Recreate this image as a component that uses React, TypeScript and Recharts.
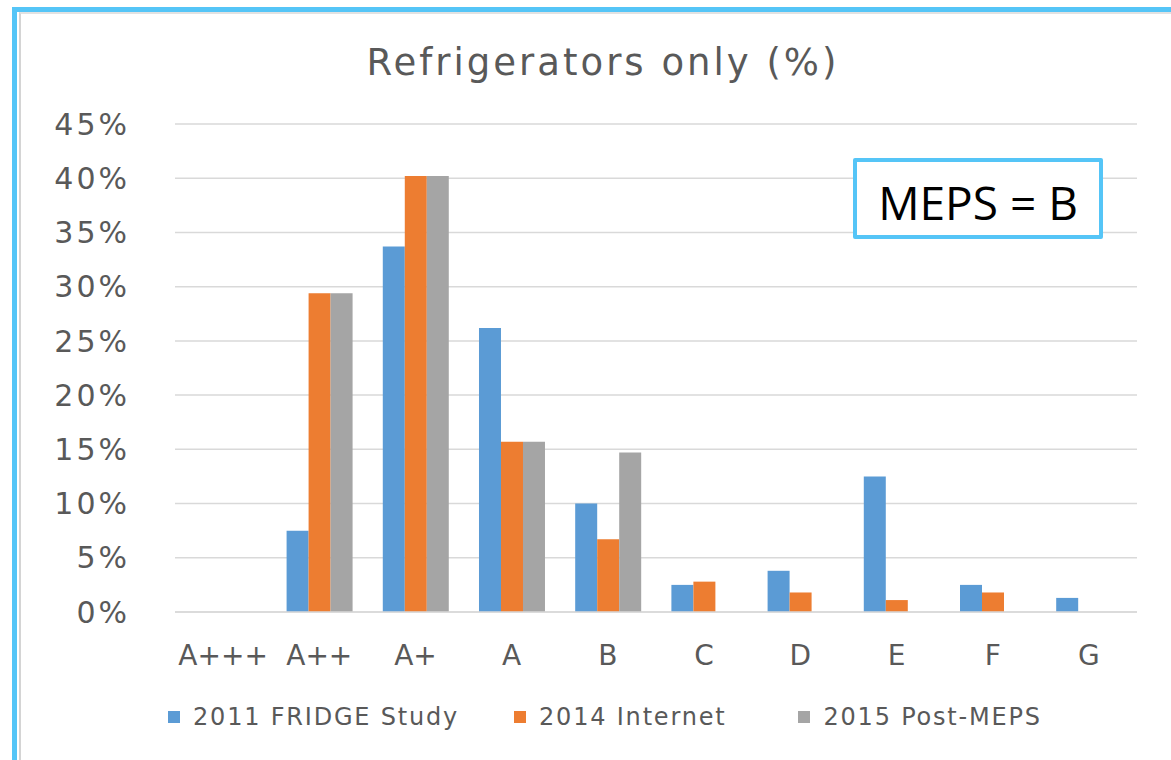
import React from "react";
import {
  BarChart,
  Bar,
  XAxis,
  YAxis,
  CartesianGrid,
  Legend,
} from "recharts";

const categories = ["A+++", "A++", "A+", "A", "B", "C", "D", "E", "F", "G"];
const fridgeStudy2011 = [0, 7.5, 33.7, 26.2, 10.0, 2.5, 3.8, 12.5, 2.5, 1.3];
const internet2014 = [0, 29.4, 40.2, 15.7, 6.7, 2.8, 1.8, 1.1, 1.8, 0];
const postMeps2015 = [0, 29.4, 40.2, 15.7, 14.7, 0, 0, 0, 0, 0];
const yTicks = [0, 5, 10, 15, 20, 25, 30, 35, 40, 45];

const data = categories.map((cat, i) => ({
  cat,
  fridge: fridgeStudy2011[i],
  internet: internet2014[i],
  post: postMeps2015[i],
}));

const textColor = "#595959";
const font = "DejaVu Sans";

function renderLegend(props: any) {
  const { payload } = props;
  return (
    <div
      style={{
        display: "flex",
        alignItems: "center",
        height: 30,
        paddingLeft: 168,
        fontFamily: font,
        fontSize: 24,
        letterSpacing: 1.8,
        color: textColor,
      }}
    >
      {payload.map((p: any, i: number) => (
        <div
          key={p.value}
          style={{ display: "flex", alignItems: "center", marginRight: i === 0 ? 55 : 72 }}
        >
          <span
            style={{
              display: "inline-block",
              width: 12,
              height: 12,
              background: p.color,
              marginRight: 13,
            }}
          />
          <span>{p.value}</span>
        </div>
      ))}
    </div>
  );
}

export default function App() {
  return (
    <div
      style={{
        position: "absolute",
        left: 0,
        top: 0,
        width: 1171,
        height: 760,
        background: "#fff",
        overflow: "hidden",
      }}
    >
      <div
        style={{
          position: "absolute",
          left: 12,
          top: 7,
          width: 1300,
          height: 900,
          borderLeft: "5px solid #55c5f7",
          borderTop: "5px solid #55c5f7",
        }}
      />
      <div
        style={{
          position: "absolute",
          left: 19,
          top: 12,
          width: 1300,
          height: 900,
          borderLeft: "2px solid #d4d4d4",
          borderTop: "2px solid #e2e2e2",
        }}
      />
      <div
        style={{
          position: "absolute",
          left: 0,
          width: 1206,
          top: 44,
          textAlign: "center",
          fontFamily: font,
          fontSize: 37,
          lineHeight: "37px",
          letterSpacing: 3,
          color: textColor,
        }}
      >
        Refrigerators only (%)
      </div>
      <BarChart
        width={1171}
        height={760}
        data={data}
        margin={{ top: 124, right: 34, bottom: 28, left: 25 }}
        barCategoryGap="16%"
        barGap={0}
      >
        <CartesianGrid vertical={false} stroke="#d9d9d9" strokeWidth={1.5} />
        <XAxis
          dataKey="cat"
          axisLine={{ stroke: "#d9d9d9", strokeWidth: 1.5 }}
          tickLine={false}
          tickMargin={27}
          height={90}
          interval={0}
          tick={{ fill: textColor, fontFamily: font, fontSize: 28 }}
        />
        <YAxis
          width={150}
          domain={[0, 45]}
          ticks={yTicks}
          axisLine={false}
          tickLine={false}
          tickMargin={39}
          tickFormatter={(v: number) => `${v}%`}
          tick={{ fill: textColor, fontFamily: font, fontSize: 30, letterSpacing: 3 }}
        />
        <Legend content={renderLegend} verticalAlign="bottom" wrapperStyle={{ left: 0, width: 1171 }} />
        <Bar dataKey="fridge" name="2011 FRIDGE Study" fill="#5b9bd5" isAnimationActive={false} />
        <Bar dataKey="internet" name="2014 Internet" fill="#ed7d31" isAnimationActive={false} />
        <Bar dataKey="post" name="2015 Post-MEPS" fill="#a5a5a5" isAnimationActive={false} />
      </BarChart>
      <div
        style={{
          position: "absolute",
          left: 853,
          top: 158,
          width: 250,
          height: 81,
          boxSizing: "border-box",
          border: "4px solid #55c5f7",
          borderRadius: 2,
          background: "#fff",
          display: "flex",
          alignItems: "center",
          justifyContent: "center",
          fontFamily: "Open Sans",
          fontSize: 46,
          color: "#000",
          paddingTop: 6,
        }}
      >
        MEPS = B
      </div>
    </div>
  );
}
